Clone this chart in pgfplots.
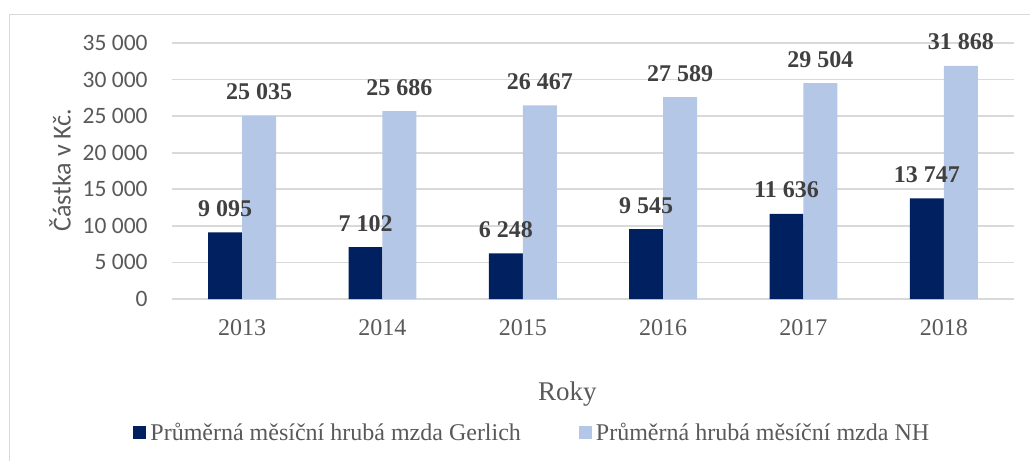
\documentclass[border=0pt]{standalone}
\usepackage{fontspec}
\setmainfont{Liberation Serif}
\newfontfamily\carlito{Carlito}
\usepackage{pgfplots}
\pgfplotsset{compat=1.18}

\definecolor{gerlich}{HTML}{002060}
\definecolor{nh}{HTML}{B4C7E7}
\definecolor{gridgray}{HTML}{D9D9D9}
\definecolor{textgray}{HTML}{595959}
\definecolor{labelgray}{HTML}{404040}

\begin{document}
\begin{tikzpicture}
\path[use as bounding box] (-86pt,-81pt) rectangle (429pt,149.5pt);
\draw[gridgray, line width=0.6pt] (-81.25pt,-81pt) -- (-81.25pt,142.25pt) -- (429pt,142.25pt);
\begin{axis}[
    at={(0pt,0pt)}, anchor=south west,
    scale only axis,
    width=421pt, height=128pt,
    ybar=0pt,
    bar width=0.242,
    xmin=-0.5, xmax=5.5,
    ymin=0, ymax=35000,
    xtick={0,...,5},
    xticklabels={2013,2014,2015,2016,2017,2018},
    ytick={0,5000,...,35000},
    scaled y ticks=false,
    /pgf/number format/assume math mode=true,
    /pgf/number format/1000 sep={\ },
    major tick length=0pt,
    axis line style={draw=none},
    ymajorgrids,
    grid style={draw=gridgray, line width=0.8pt},
    yticklabel style={font=\carlito\fontsize{11.75}{13}\selectfont, text=textgray,
        anchor=east, inner sep=0pt, xshift=-12pt},
    xticklabel style={font=\fontsize{12}{14}\selectfont, text=textgray,
        anchor=base, inner sep=0pt, yshift=-18pt},
    xlabel={Roky},
    xlabel style={at={(axis description cs:0.4697,-0.398)}, anchor=base,
        font=\fontsize{13.5}{15}\selectfont, text=textgray, inner sep=0pt},
    ylabel={Částka v Kč.},
    ylabel style={at={(axis description cs:-0.133,0.504)}, anchor=center,
        font=\carlito\fontsize{13}{15}\selectfont, text=textgray, inner sep=0pt},
    nodes near coords,
    nodes near coords style={font=\bfseries\fontsize{12}{14}\selectfont, text=labelgray,
        anchor=base, inner sep=0pt, yshift=8pt},
    legend columns=2,
    legend image code/.code={\fill[#1] (0pt,-3.25pt) rectangle (6.5pt,3.25pt);},
    legend style={at={(axis description cs:-0.0463,-0.523)}, anchor=west,
        draw=none, fill=none, inner sep=0pt,
        font=\fontsize{12}{14}\selectfont, text=textgray,
        nodes={inner sep=0pt},
        /tikz/every odd column/.append style={column sep=2pt},
        /tikz/every even column/.append style={column sep=29pt}},
]
\addplot[draw=none, fill=gerlich, bar shift=-0.121] coordinates {
    (0,9095) (1,7102) (2,6248) (3,9545) (4,11636) (5,13747)};
\addplot[draw=none, fill=nh, bar shift=0.121] coordinates {
    (0,25035) (1,25686) (2,26467) (3,27589) (4,29504) (5,31868)};
\legend{Průměrná měsíční hrubá mzda Gerlich, Průměrná hrubá měsíční mzda NH}
\end{axis}
\end{tikzpicture}
\end{document}
